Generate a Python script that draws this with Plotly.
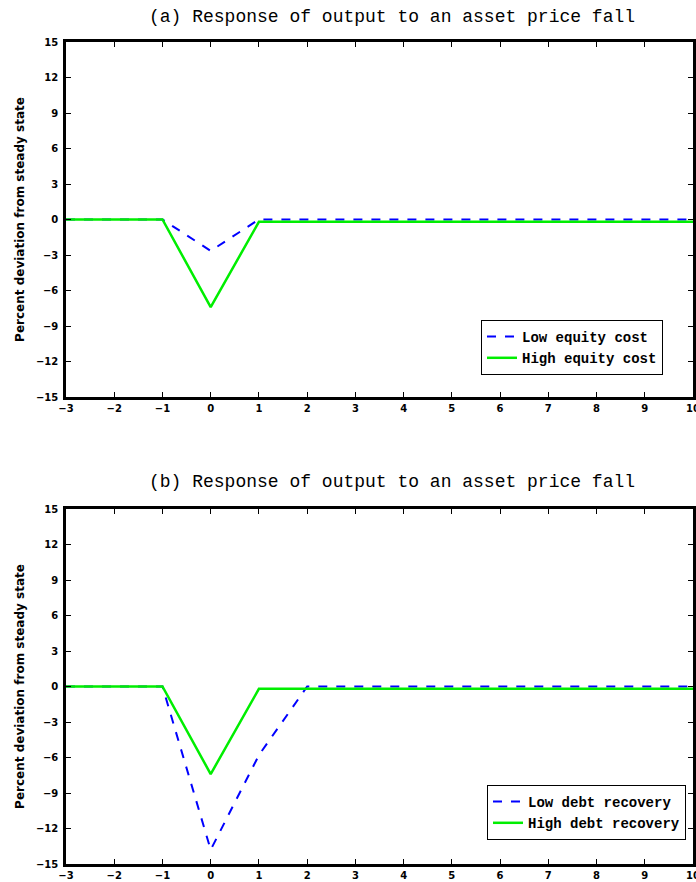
import plotly.graph_objects as go
from plotly.subplots import make_subplots

quarters = [-3, -2, -1, 0, 1, 2, 3, 4, 5, 6, 7, 8, 9, 10]

low_equity_cost = [0, 0, 0, -2.65, 0, 0, 0, 0, 0, 0, 0, 0, 0, 0]
high_equity_cost = [0, 0, 0, -7.4, -0.2, -0.2, -0.2, -0.2, -0.2, -0.2, -0.2, -0.2, -0.2, -0.2]

low_debt_recovery = [0, 0, 0, -13.8, -5.8, 0, 0, 0, 0, 0, 0, 0, 0, 0]
high_debt_recovery = [0, 0, 0, -7.4, -0.2, -0.2, -0.2, -0.2, -0.2, -0.2, -0.2, -0.2, -0.2, -0.2]

titles = ["(a) Response of output to an asset price fall",
          "(b) Response of output to an asset price fall"]
y_label = "Percent deviation from steady state"
y_ticks = [-15, -12, -9, -6, -3, 0, 3, 6, 9, 12, 15]
x_ticks = quarters

W, H = 696, 882
L, R, T, B = 66, 3, 42, 18
plot_w = W - L - R
plot_h = H - T - B


def px_x(x):
    return (x - L) / plot_w


def px_y(y):
    return (H - B - y) / plot_h


fig = make_subplots(rows=2, cols=1, vertical_spacing=112 / plot_h)

blue = "#0000ff"
green = "#00ee00"
mono = "Liberation Mono"
sans = "DejaVu Sans"

fig.add_trace(go.Scatter(x=quarters, y=low_equity_cost, mode="lines", name="Low equity cost",
                         line=dict(color=blue, width=2, dash="dash"), legend="legend"), row=1, col=1)
fig.add_trace(go.Scatter(x=quarters, y=high_equity_cost, mode="lines", name="High equity cost",
                         line=dict(color=green, width=2.5), legend="legend"), row=1, col=1)
fig.add_trace(go.Scatter(x=quarters, y=low_debt_recovery, mode="lines", name="Low debt recovery",
                         line=dict(color=blue, width=2, dash="dash"), legend="legend2"), row=2, col=1)
fig.add_trace(go.Scatter(x=quarters, y=high_debt_recovery, mode="lines", name="High debt recovery",
                         line=dict(color=green, width=2.5), legend="legend2"), row=2, col=1)

axis_common = dict(showgrid=False, zeroline=False, showline=True, linecolor="black", linewidth=2.5,
                   mirror="allticks", ticks="inside", ticklen=5, tickwidth=1, tickcolor="black",
                   automargin=False, ticklabeloverflow="allow",
                   tickfont=dict(family=sans, size=10, color="black", weight="bold"))

for r in (1, 2):
    fig.update_xaxes(range=[-3, 10], tickmode="array", tickvals=x_ticks,
                     ticktext=[str(v).replace("-", "\u2212") for v in x_ticks], **axis_common, row=r, col=1)
    fig.update_yaxes(range=[-15, 15], tickmode="array", tickvals=y_ticks,
                     ticktext=[str(v).replace("-", "\u2212") for v in y_ticks],
                     ticklabelstandoff=3,
                     title=dict(text=y_label, standoff=9,
                                font=dict(family=sans, size=12, color="black", weight="bold")),
                     **axis_common, row=r, col=1)

legend_font = dict(family=mono, size=14, color="black", weight="bold")
fig.update_layout(
    width=W, height=H,
    margin=dict(l=L, r=R, t=T, b=B, autoexpand=False),
    paper_bgcolor="white", plot_bgcolor="white",
    showlegend=True,
    legend=dict(x=px_x(663), y=px_y(320), xanchor="right", yanchor="top",
                bordercolor="black", borderwidth=1, bgcolor="white", font=legend_font,
                itemwidth=30, tracegroupgap=0),
    legend2=dict(x=px_x(686), y=px_y(785), xanchor="right", yanchor="top",
                 bordercolor="black", borderwidth=1, bgcolor="white", font=legend_font,
                 itemwidth=30, tracegroupgap=0),
)

for title, py in zip(titles, (17, 482)):
    fig.add_annotation(text=title, x=px_x(392), y=px_y(py),
                       xref="paper", yref="paper", showarrow=False,
                       xanchor="center", yanchor="middle",
                       font=dict(family=mono, size=18, color="black"))

fig.write_html("out.html", config={"displayModeBar": False},
               post_script="document.body.style.margin='0';document.body.style.overflow='hidden';")
